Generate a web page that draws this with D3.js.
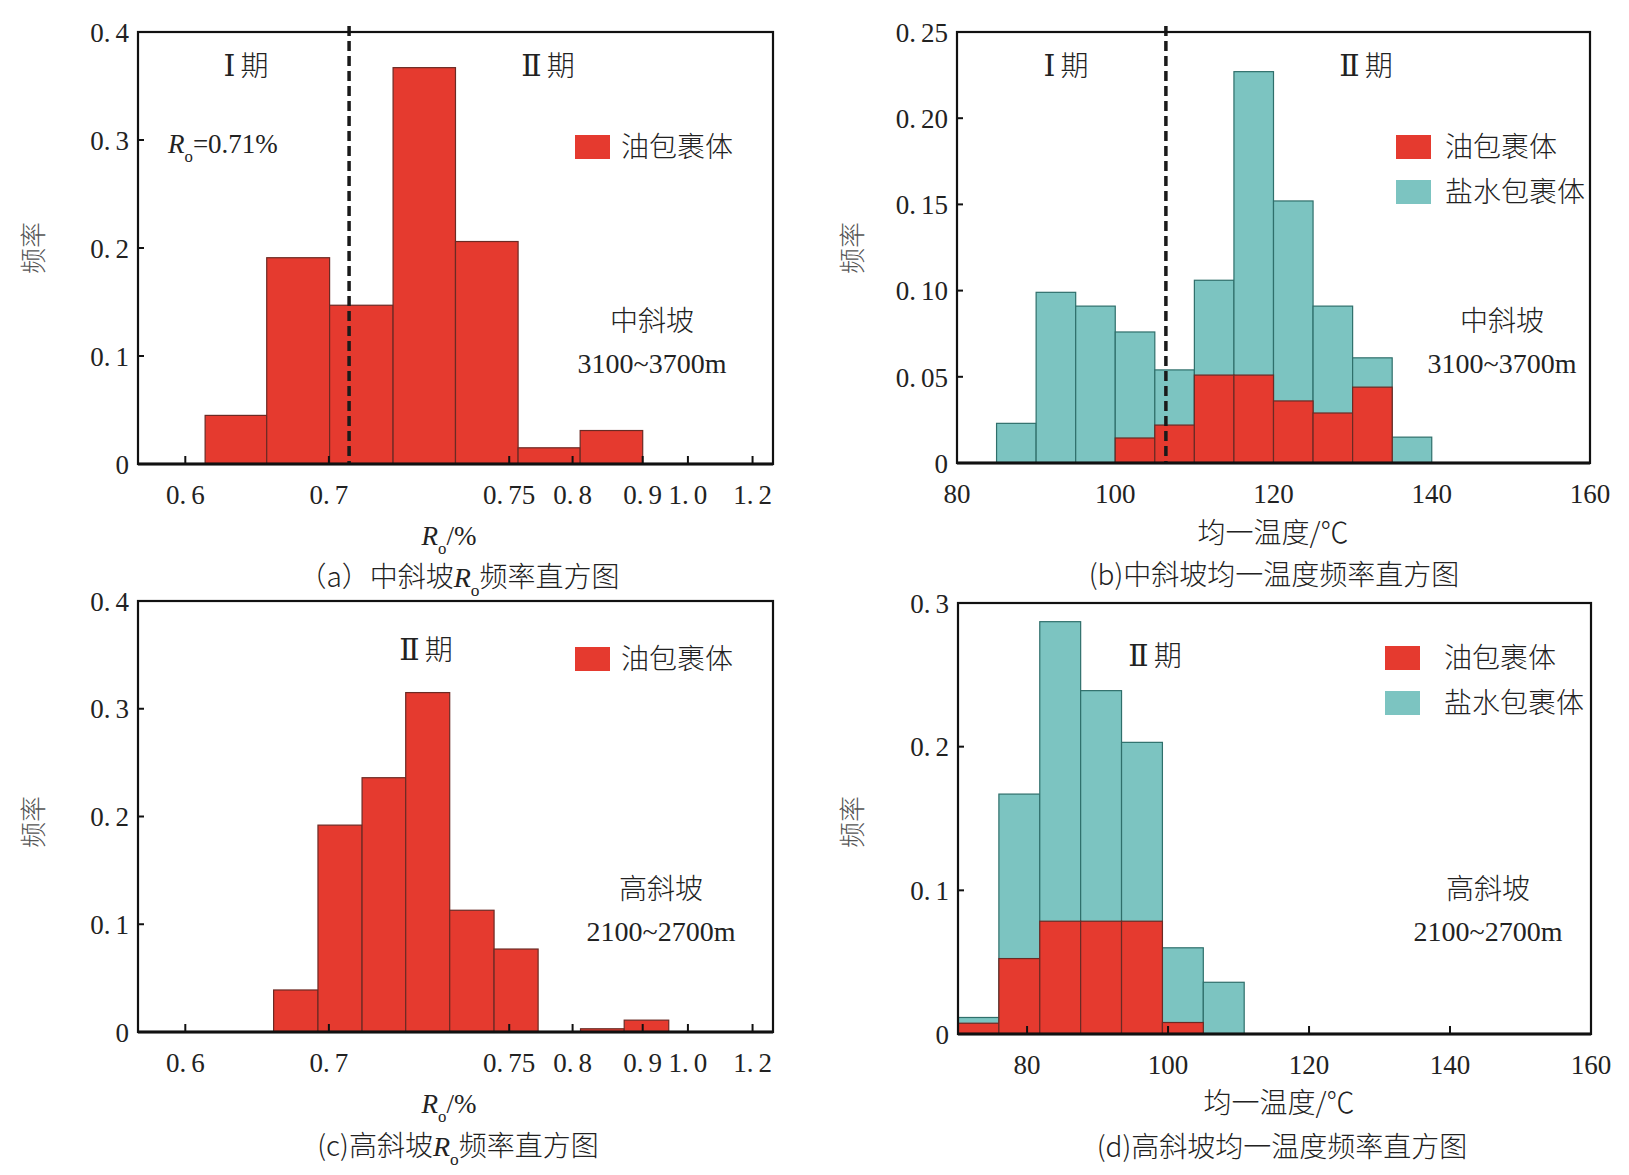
<!DOCTYPE html>
<html>
<head>
<meta charset="utf-8">
<script src="https://cdn.jsdelivr.net/npm/d3@7"></script>
<style>
  body { margin: 0; background: #fff; }
  svg { display: block; }
  .num { font-family: "Liberation Serif", "DejaVu Serif", serif; fill: #222; }
  .cjk { font-family: "Noto Sans CJK SC", "Liberation Serif", serif; fill: #222; font-weight: 300; }
  .roman { font-family: "DejaVu Serif", "Liberation Serif", serif; }
</style>
</head>
<body>
<div id="chart"></div>
<script>
'use strict'

// Ro axis (a, c): uneven tick labels
const roTicks = [0.6, 0.7, 0.75, 0.8, 0.9, 1.0, 1.2];
const roTickLabels = ['0.6', '0.7', '0.75', '0.8', '0.9', '1.0', '1.2'];

// (a) 中斜坡 Ro bins and frequency
const roBinsA = [[0.6138, 0.6567], [0.6567, 0.7002], [0.7002, 0.7178], [0.7178, 0.7351],
                 [0.7351, 0.757], [0.757, 0.8108], [0.8108, 0.9]];
const roFreqA = [0.045, 0.191, 0.147, 0.367, 0.206, 0.015, 0.031];
const roBoundaryA = 0.7056;

// (c) 高斜坡 Ro bins and frequency
const roBinsC = [[0.6615, 0.6924], [0.6924, 0.7092], [0.7092, 0.7213], [0.7213, 0.7335],
                 [0.7335, 0.7458], [0.7458, 0.7728], [0.8113, 0.8736], [0.8736, 0.9576]];
const roFreqC = [0.039, 0.192, 0.236, 0.315, 0.113, 0.077, 0.003, 0.011];

// (b) 中斜坡 homogenization temperature
const tempEdgesB = [85, 90, 95, 100, 105, 110, 115, 120, 125, 130, 135, 140];
const salineB = [0.023, 0.099, 0.091, 0.076, 0.054, 0.106, 0.227, 0.152, 0.091, 0.061, 0.015];
const oilB    = [0, 0, 0, 0.0145, 0.022, 0.051, 0.051, 0.036, 0.029, 0.044, 0];
const tempBoundaryB = 106.4;

// (d) 高斜坡 homogenization temperature
const tempEdgesD = [70.2, 76.0, 81.8, 87.6, 93.4, 99.2, 105.0, 110.8];
const salineD = [0.0115, 0.167, 0.287, 0.239, 0.203, 0.060, 0.036];
const oilD    = [0.0075, 0.0525, 0.0785, 0.0785, 0.0785, 0.008, 0];

const tempTicks = [80, 100, 120, 140, 160];
const freqTicks4 = [0, 0.1, 0.2, 0.3, 0.4];
const freqTicksB = [0, 0.05, 0.10, 0.15, 0.20, 0.25];
const freqTicksD = [0, 0.1, 0.2, 0.3];

const RED = '#e53a2f', CYAN = '#7cc4c1';

// where the uneven Ro ticks sit along the axis (fraction of width)
const roDomain = [0.567, ...roTicks, 1.263];
const roFrac = [0, 0.0745, 0.3006, 0.5846, 0.6844, 0.7948, 0.866, 0.9678, 1];

const svg = d3.select('#chart').append('svg')
    .attr('width', 1629).attr('height', 1175);
svg.append('rect').attr('width', 1629).attr('height', 1175).attr('fill', '#fff');

function numLabel(sel, s) {
    // digits with a wide gap after the decimal point
    let [a, b] = s.split('.');
    sel.append('tspan').text(a + (b !== undefined ? '.' : ''));
    if (b !== undefined) sel.append('tspan').attr('dx', 5).text(b);
}

function roText(sel, before, after, afterCls) {
    if (before) sel.append('tspan').attr('class', 'cjk').text(before);
    sel.append('tspan').attr('font-family', 'Liberation Serif').attr('font-style', 'italic').text('R');
    sel.append('tspan').attr('font-family', 'Liberation Serif').attr('font-size', '0.62em').attr('dy', 9).text('o');
    sel.append('tspan').attr('dy', -9).attr('class', afterCls || null).text(after);
}

function stageText(sel, s) {
    // roman numeral in a serif face, then 期
    sel.append('tspan').attr('class', 'roman').attr('font-size', 30).text(s[0]);
    sel.append('tspan').attr('dx', 5).text(s.slice(1));
}

function panel(p) {
    let g = svg.append('g').attr('transform', `translate(${p.x},${p.y})`);
    let y = d3.scaleLinear().domain([0, p.ymax]).range([p.h, 0]);
    let x = p.x_;

    // bars
    p.layers.forEach(layer => {
        g.append('g').selectAll('rect')
            .data(layer.bins.map((b, i) => ({lo: b[0], hi: b[1], v: layer.values[i]})).filter(d => d.v > 0))
            .join('rect')
                .attr('x', d => x(d.lo))
                .attr('y', d => y(d.v))
                .attr('width', d => x(d.hi) - x(d.lo))
                .attr('height', d => y(0) - y(d.v))
                .attr('fill', layer.color)
                .attr('stroke', layer.stroke)
                .attr('stroke-width', 1.2);
    });

    // dashed stage boundary
    if (p.boundary !== undefined) {
        g.append('line')
            .attr('x1', x(p.boundary)).attr('x2', x(p.boundary))
            .attr('y1', -6).attr('y2', p.h)
            .attr('stroke', '#1a1a1a').attr('stroke-width', 3.5)
            .attr('stroke-dasharray', '10,5');
    }

    // frame
    g.append('rect').attr('width', p.w).attr('height', p.h)
        .attr('fill', 'none').attr('stroke', '#111').attr('stroke-width', 2.2);
    g.append('line').attr('x1', 0).attr('x2', p.w).attr('y1', p.h).attr('y2', p.h)
        .attr('stroke', '#111').attr('stroke-width', 3);

    // y ticks + labels
    p.yTicks.forEach(t => {
        if (t > 0 && t < p.ymax) {
            g.append('line').attr('x1', 0).attr('x2', 6).attr('y1', y(t)).attr('y2', y(t))
                .attr('stroke', '#111').attr('stroke-width', 2);
        }
        let txt = g.append('text').attr('class', 'num')
            .attr('x', -9).attr('y', y(t)).attr('dy', '0.36em')
            .attr('text-anchor', 'end').attr('font-size', 27);
        numLabel(txt, p.yFormat(t));
    });

    // x ticks + labels
    p.xTicks.forEach((t, i) => {
        if (p.xTickMarks) {
            g.append('line').attr('x1', x(t)).attr('x2', x(t)).attr('y1', p.h).attr('y2', p.h - 8)
                .attr('stroke', '#111').attr('stroke-width', 2);
        }
        let txt = g.append('text').attr('class', 'num')
            .attr('x', x(t)).attr('y', p.h + 30).attr('dy', '0.36em')
            .attr('text-anchor', 'middle').attr('font-size', 27);
        numLabel(txt, p.xLabels[i]);
    });

    // y title
    g.append('text').attr('class', 'cjk')
        .attr('transform', `translate(${p.ytx - p.x},${p.yty - p.y}) rotate(-90)`)
        .attr('text-anchor', 'middle').attr('dy', '0.35em')
        .attr('font-size', 26).style('fill', '#555').text('频率');

    // legend
    p.legend.forEach((l, i) => {
        g.append('rect').attr('x', p.lg[0]).attr('y', p.lg[1] + i * 45)
            .attr('width', 35).attr('height', 24).attr('fill', l.color);
        g.append('text').attr('class', 'cjk')
            .attr('x', p.lg[0] + p.lgGap).attr('y', p.lg[1] + 12 + i * 45).attr('dy', '0.36em')
            .attr('font-size', 28).text(l.name);
    });

    // stage labels
    p.stages.forEach(s => {
        let t = g.append('text').attr('class', 'cjk')
            .attr('x', s.x).attr('y', s.y).attr('dy', '0.36em')
            .attr('text-anchor', 'middle').attr('font-size', 28);
        stageText(t, s.t);
    });

    // annotations
    p.notes.forEach(n => {
        g.append('text').attr('class', n.cls || 'cjk')
            .attr('x', n.x).attr('y', n.y).attr('dy', '0.36em')
            .attr('text-anchor', 'middle').attr('font-size', 28).text(n.t);
    });

    return g;
}

function roScale(w) {
    return d3.scaleLinear().domain(roDomain).range(roFrac.map(f => f * w));
}

let fmt1 = t => t === 0 ? '0' : d3.format('.1f')(t);
let fmt2 = t => t === 0 ? '0' : d3.format('.2f')(t);

// (a)
let gA = panel({
    x: 138, y: 32, w: 635, h: 432, ymax: 0.4, x_: roScale(635),
    layers: [{bins: roBinsA, values: roFreqA, color: RED, stroke: '#6b2a24'}],
    boundary: roBoundaryA,
    yTicks: freqTicks4, yFormat: fmt1,
    xTicks: roTicks, xLabels: roTickLabels, xTickMarks: true,
    ytx: 34, yty: 248,
    legend: [{name: '油包裹体', color: RED}], lg: [437, 103], lgGap: 46,
    stages: [{t: 'Ⅰ期', x: 108, y: 34}, {t: 'Ⅱ期', x: 410, y: 34}],
    notes: [
        {t: '中斜坡', x: 514, y: 289},
        {t: '3100~3700m', x: 514, y: 331, cls: 'num'}
    ]
});
let roNote = gA.append('text').attr('class', 'num').attr('x', 30).attr('y', 111)
    .attr('dy', '0.36em').attr('font-size', 27);
roText(roNote, '', '=0.71%');

// (b)
panel({
    x: 957, y: 32, w: 633, h: 431, ymax: 0.25,
    x_: d3.scaleLinear().domain([80, 160]).range([0, 633]),
    layers: [
        {bins: d3.pairs(tempEdgesB), values: salineB, color: CYAN, stroke: '#2f6f6b'},
        {bins: d3.pairs(tempEdgesB), values: oilB, color: RED, stroke: '#6b2a24'}
    ],
    boundary: tempBoundaryB,
    yTicks: freqTicksB, yFormat: fmt2,
    xTicks: tempTicks, xLabels: tempTicks.map(String), xTickMarks: false,
    ytx: 853, yty: 248,
    legend: [{name: '油包裹体', color: RED}, {name: '盐水包裹体', color: CYAN}], lg: [439, 103], lgGap: 49,
    stages: [{t: 'Ⅰ期', x: 109, y: 34}, {t: 'Ⅱ期', x: 409, y: 34}],
    notes: [
        {t: '中斜坡', x: 545, y: 289},
        {t: '3100~3700m', x: 545, y: 331, cls: 'num'}
    ]
});

// (c)
panel({
    x: 138, y: 601, w: 635, h: 431, ymax: 0.4, x_: roScale(635),
    layers: [{bins: roBinsC, values: roFreqC, color: RED, stroke: '#6b2a24'}],
    yTicks: freqTicks4, yFormat: fmt1,
    xTicks: roTicks, xLabels: roTickLabels, xTickMarks: true,
    ytx: 34, yty: 822,
    legend: [{name: '油包裹体', color: RED}], lg: [437, 46], lgGap: 46,
    stages: [{t: 'Ⅱ期', x: 288, y: 49}],
    notes: [
        {t: '高斜坡', x: 523, y: 288},
        {t: '2100~2700m', x: 523, y: 330, cls: 'num'}
    ]
});

// (d)
panel({
    x: 958, y: 603, w: 633, h: 431, ymax: 0.3,
    x_: d3.scaleLinear().domain([70.2, 160]).range([0, 633]),
    layers: [
        {bins: d3.pairs(tempEdgesD), values: salineD, color: CYAN, stroke: '#2f6f6b'},
        {bins: d3.pairs(tempEdgesD), values: oilD, color: RED, stroke: '#6b2a24'}
    ],
    yTicks: freqTicksD, yFormat: fmt1,
    xTicks: tempTicks, xLabels: tempTicks.map(String), xTickMarks: true,
    ytx: 853, yty: 822,
    legend: [{name: '油包裹体', color: RED}, {name: '盐水包裹体', color: CYAN}], lg: [427, 43], lgGap: 59,
    stages: [{t: 'Ⅱ期', x: 197, y: 53}],
    notes: [
        {t: '高斜坡', x: 530, y: 286},
        {t: '2100~2700m', x: 530, y: 328, cls: 'num'}
    ]
});

// axis titles and captions
function roTitle(cx, cy) {
    let t = svg.append('text').attr('class', 'num').attr('x', cx).attr('y', cy)
        .attr('dy', '0.36em').attr('text-anchor', 'middle').attr('font-size', 27);
    roText(t, '', '/%');
}
roTitle(449, 535);
roTitle(449, 1103);

svg.append('text').attr('class', 'cjk').attr('x', 1273).attr('y', 533).attr('dy', '0.36em')
    .attr('text-anchor', 'middle').attr('font-size', 28).text('均一温度/℃');
svg.append('text').attr('class', 'cjk').attr('x', 1279).attr('y', 1103).attr('dy', '0.36em')
    .attr('text-anchor', 'middle').attr('font-size', 28).text('均一温度/℃');

function caption(cx, cy, before, after) {
    let t = svg.append('text').attr('class', 'cjk').attr('x', cx).attr('y', cy)
        .attr('dy', '0.36em').attr('text-anchor', 'middle').attr('font-size', 28);
    if (after === undefined) { t.text(before); return; }
    roText(t, before, after, 'cjk');
}
caption(459, 577, '（a）中斜坡', '频率直方图');
caption(1274, 575, '(b)中斜坡均一温度频率直方图');
caption(458, 1146, '(c)高斜坡', '频率直方图');
caption(1282, 1147, '(d)高斜坡均一温度频率直方图');
</script>
</body>
</html>
